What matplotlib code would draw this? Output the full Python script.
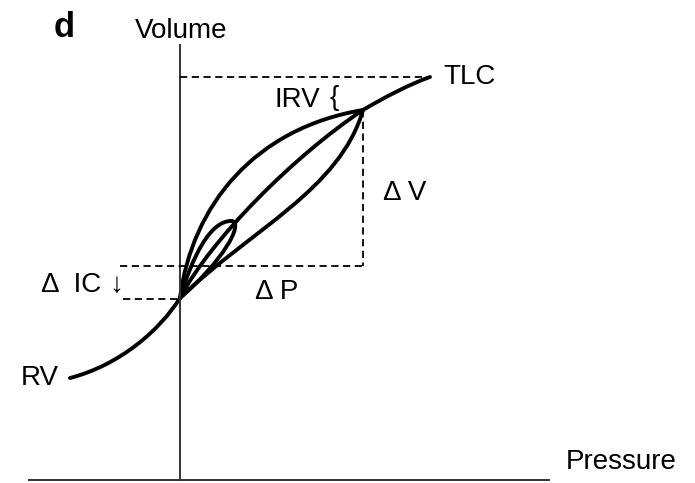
import matplotlib
matplotlib.use("Agg")
import matplotlib.pyplot as plt
from matplotlib.path import Path
from matplotlib.patches import PathPatch

plt.rcParams['font.family'] = ['Liberation Sans', 'DejaVu Sans']

# schematic P-V curves, each a cubic bezier: start, ctrl1, ctrl2, end (pressure, volume)
rv_to_frc = [(-1.10, 1.02), (-0.60, 1.15), (-0.20, 1.50), (0.0, 1.82)]
big_upper = [(0.0, 1.82), (0.12, 2.75), (0.75, 3.52), (1.83, 3.70)]
big_middle = [(0.0, 1.82), (0.30, 2.40), (1.15, 3.25), (1.83, 3.70)]
big_lower = [(0.0, 1.82), (0.70, 2.50), (1.60, 2.90), (1.83, 3.70)]
to_tlc = [(1.83, 3.70), (2.05, 3.83), (2.30, 3.96), (2.50, 4.03)]
small_up = [(0.0, 1.82), (0.12, 2.22), (0.30, 2.60), (0.52, 2.59)]
small_down = [(0.52, 2.59), (0.64, 2.56), (0.42, 2.18), (0.0, 1.82)]

# reference levels
tlc_v = 4.03
frc_v = 1.82
peak_p, peak_v = 1.83, 3.70
base_v = 2.14


def bezier(ax, pts, lw=2.8):
    path = Path(pts, [Path.MOVETO, Path.CURVE4, Path.CURVE4, Path.CURVE4])
    ax.add_patch(PathPatch(path, fill=False, lw=lw, color='black', capstyle='round'))


fig = plt.figure(figsize=(6.95, 4.83), dpi=100)
ax = fig.add_axes([0, 0, 1, 1])
ax.set_xlim(-1.80, 5.15)
ax.set_ylim(-0.03, 4.80)
ax.axis('off')

# axes lines
ax.plot([0, 0], [0, 4.35], color='#333333', lw=1.4)
ax.plot([-1.51, 3.69], [0, 0], color='#333333', lw=1.4)

for c in [rv_to_frc, big_upper, big_middle, big_lower, to_tlc, small_up, small_down]:
    bezier(ax, c)

dash = dict(color='black', lw=1.3, ls=(0, (4, 2.5)))
ax.plot([0, 2.50], [tlc_v, tlc_v], **dash)
ax.plot([peak_p, peak_p], [peak_v, base_v], **dash)
ax.plot([-0.60, peak_p], [base_v, base_v], **dash)
ax.plot([-0.57, 0], [frc_v - 0.01, frc_v - 0.01], **dash)

fs = 20
ax.text(-1.16, 4.53, 'd', fontsize=25, fontweight='bold', ha='center', va='center')
ax.text(0.01, 4.49, 'Volume', fontsize=fs, ha='center', va='center')
ax.text(4.41, 0.18, 'Pressure', fontsize=fs, ha='center', va='center')
ax.text(2.63, 4.03, 'TLC', fontsize=fs, ha='left', va='center')
ax.text(1.40, 3.80, 'IRV', fontsize=fs, ha='right', va='center')
ax.text(1.54, 3.82, '{', fontsize=fs, ha='center', va='center')
ax.text(2.25, 2.87, 'Δ V', fontsize=fs, ha='center', va='center')
ax.text(0.97, 1.88, 'Δ P', fontsize=fs, ha='center', va='center')
ax.text(-0.79, 1.95, 'Δ  IC', fontsize=fs, ha='right', va='center')
ax.text(-0.64, 1.95, '↓', fontsize=fs, fontweight='bold', ha='center', va='center')
ax.text(-1.40, 1.02, 'RV', fontsize=fs, ha='center', va='center')

fig.savefig('out.png', dpi=100)
